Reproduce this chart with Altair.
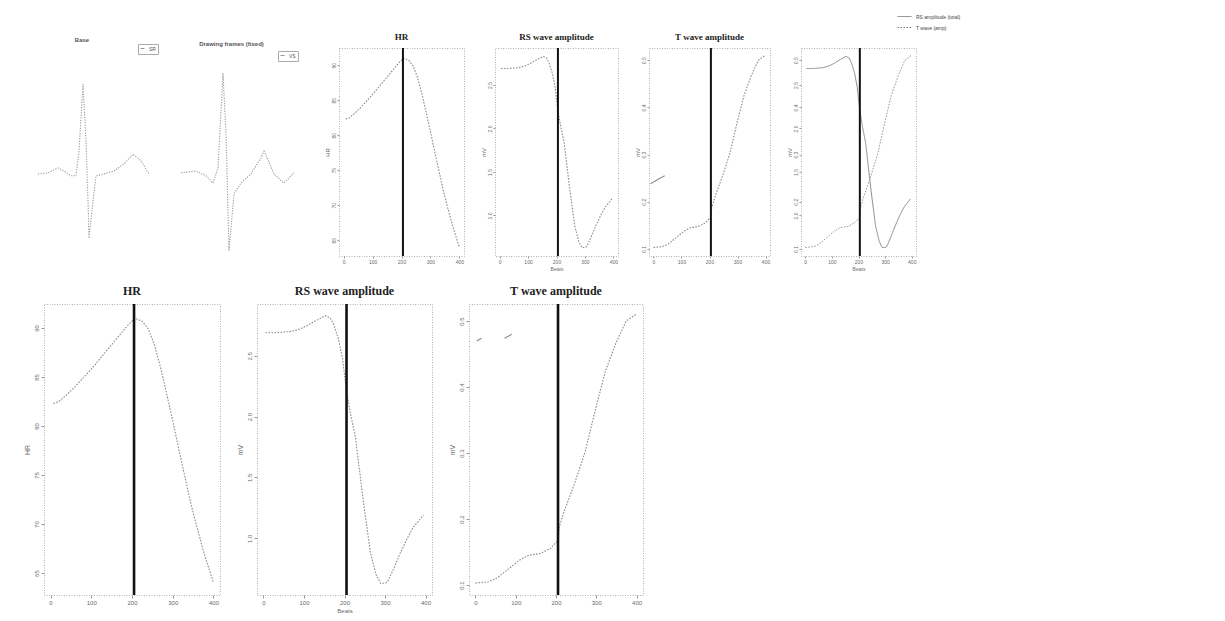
import altair as alt
import pandas as pd

# ---------------- data ----------------
x_ticks = [0, 100, 200, 300, 400]
marker_beat = [205]

hr_beats = [7, 20, 40, 60, 80, 100, 120, 140, 160, 180, 195, 207, 225, 240, 255,
            270, 285, 300, 315, 330, 345, 360, 375, 390, 400]
hr_values = [82.3, 82.5, 83.2, 84.0, 84.9, 85.8, 86.8, 87.8, 88.8, 89.8, 90.5, 91.0,
             90.7, 89.9, 88.3, 86.0, 83.3, 80.5, 77.6, 74.8, 72.0, 69.6, 67.3, 65.3, 64.0]
hr_ticks = [65, 70, 75, 80, 85, 90]

rs_beats = [5, 30, 67, 90, 109, 130, 153, 165, 173, 185, 195, 205, 215, 227, 247,
            264, 278, 289, 300, 306, 320, 338, 355, 370, 385, 395]
rs_values = [2.69, 2.69, 2.70, 2.72, 2.75, 2.79, 2.83, 2.81, 2.76, 2.64, 2.48, 2.21,
             2.02, 1.83, 1.29, 0.88, 0.70, 0.63, 0.63, 0.64, 0.74, 0.88, 1.00, 1.09,
             1.15, 1.19]
rs_ticks = [1.0, 1.5, 2.0, 2.5]

t_beats = [0, 33, 54, 85, 110, 131, 162, 187, 205, 208, 221, 246, 272, 297, 323,
           349, 374, 400]
t_values = [0.103, 0.105, 0.111, 0.126, 0.138, 0.145, 0.148, 0.156, 0.168, 0.188,
            0.213, 0.254, 0.301, 0.364, 0.425, 0.467, 0.500, 0.511]
t_ticks = [0.1, 0.2, 0.3, 0.4, 0.5]

# short stray trace pieces in the T panels
t_frag_seg = ["a", "a", "b", "b"]
t_frag_beats = [3, 15, 72, 90]
t_frag_values = [0.470, 0.474, 0.474, 0.480]
t_top_frag_beats = [-10, 15, 40]
t_top_frag_values = [0.238, 0.247, 0.255]

# ECG beats (time in ms, amplitude in mV)
ecg1_t = [0, 50, 100, 130, 165, 190, 205, 225, 240, 250, 255, 275, 290, 330, 380,
          430, 475, 515, 555]
ecg1_mv = [0.0, 0.02, 0.10, 0.05, -0.03, -0.03, 0.38, 1.50, 0.55, -0.45, -1.07,
           -0.45, -0.03, 0.0, 0.05, 0.17, 0.33, 0.22, 0.0]
ecg2_t = [0, 75, 125, 160, 185, 210, 225, 240, 265, 300, 350, 400, 415, 465, 515, 565]
ecg2_mv = [0.02, 0.05, -0.03, -0.15, 0.10, 1.68, 0.67, -1.28, -0.33, -0.15, 0.0,
           0.27, 0.38, 0.0, -0.15, 0.02]

ecg_titles = ["Base", "Drawing frames (fixed)"]
ecg_leads = ["SR", "VS"]
combo_labels = ["RS amplitude (total)", "T wave (amp)"]
titles = ["HR", "RS wave amplitude", "T wave amplitude"]

# ---------------- styling ----------------
CURVE = "#8c8c8c"
LABEL = "#6a6a6a"
SERIF = "Liberation Serif"
SANS = "Liberation Sans"
X_DOMAIN = [-16, 416]
HR_DOM = [62.76, 92.45]
RS_DOM = [0.533, 2.926]
T_DOM = [0.085, 0.526]
ECG_Y = [-1.367, 2.1]
TOP_H = 208
BOT_H = 291


def xaxis(title, fs, tick):
    kw = dict(values=x_ticks, labelFontSize=fs, labelColor=LABEL, labelFont=SANS,
              tickSize=tick, tickColor="#999", labelPadding=1, domain=False, grid=False,
              labelFlush=False)
    if title:
        kw.update(title=title, titleFontSize=fs, titleFontWeight="normal",
                  titleColor=LABEL, titleFont=SANS, titlePadding=2)
    else:
        kw.update(title=None)
    return alt.Axis(**kw)


def yaxis(title, values, fmt, fs, tick, lpad, tpad, orient="left"):
    kw = dict(values=values, format=fmt, orient=orient, labelAngle=270,
              labelAlign="center", labelBaseline="bottom", labelFontSize=fs,
              labelColor=LABEL, labelFont=SANS, tickSize=tick, tickColor="#999",
              labelPadding=lpad, domain=False, grid=False, labelFlush=False)
    if title:
        kw.update(title=title, titleFontSize=fs + 1, titleFontWeight="normal",
                  titleColor=LABEL, titleFont=SANS, titlePadding=tpad)
    else:
        kw.update(title=None)
    return alt.Axis(**kw)


def series_panel(beats, values, ydom, yticks, yfmt, w, h, title, tfs, ytitle, xtitle,
                 fs, tick, lpad, tpad, rule_w, frag=None):
    df = pd.DataFrame({"beat": beats, "value": values})
    xe = alt.X("beat:Q", scale=alt.Scale(domain=X_DOMAIN, nice=False, zero=False),
               axis=xaxis(xtitle, fs, tick))
    ye = alt.Y("value:Q", scale=alt.Scale(domain=ydom, nice=False, zero=False),
               axis=yaxis(ytitle, yticks, yfmt, fs, tick, lpad, tpad))
    layers = [alt.Chart(df).mark_line(color=CURVE, strokeWidth=1.1,
                                      strokeDash=[1.6, 1.4]).encode(x=xe, y=ye)]
    if frag is not None:
        layers.append(alt.Chart(frag).mark_line(color=CURVE, strokeWidth=1.1)
                      .encode(x=xe, y=ye, detail="seg:N"))
    layers.append(alt.Chart(pd.DataFrame({"beat": marker_beat}))
                  .mark_rule(color="#111", strokeWidth=rule_w).encode(x=xe))
    return alt.layer(*layers).properties(
        width=w, height=h,
        title=alt.TitleParams(title, font=SERIF, fontSize=tfs, fontWeight="bold",
                              color="#222", offset=5, frame="group"))


def ecg_panel(t, mv, xdom, w, title, dx, lead, legx, legy):
    df = pd.DataFrame({"t": t, "mv": mv, "lead": lead})
    return alt.Chart(df).mark_line(strokeWidth=1.1, strokeDash=[1.2, 1.4]).encode(
        x=alt.X("t:Q", scale=alt.Scale(domain=xdom, nice=False, zero=False), axis=None),
        y=alt.Y("mv:Q", scale=alt.Scale(domain=ECG_Y, nice=False, zero=False), axis=None),
        color=alt.Color("lead:N", scale=alt.Scale(domain=[lead], range=["#999999"]),
                        legend=alt.Legend(orient="none", legendX=legx, legendY=legy,
                                          title=None, labelFontSize=5, labelFont=SANS,
                                          labelColor="#555", symbolType="stroke",
                                          symbolSize=16, symbolStrokeWidth=1,
                                          strokeColor="#aaa", padding=2))
    ).properties(width=w, height=TOP_H, view=alt.ViewBackground(stroke="transparent"),
                 title=alt.TitleParams(title, font=SANS, fontSize=6, fontWeight="bold",
                                       color="#555", offset=1, dx=dx, frame="group"))


# ---------------- top row ----------------
ecg1 = ecg_panel(ecg1_t, ecg1_mv, [30, 530], 100, ecg_titles[0], -12, ecg_leads[0], 94, -4)
ecg2 = ecg_panel(ecg2_t, ecg2_mv, [-30, 635], 133, ecg_titles[1], -10, ecg_leads[1], 103, 3)

hr_top = series_panel(hr_beats, hr_values, HR_DOM, hr_ticks, "d", 125, TOP_H, titles[0], 9,
                      "HR", None, 5, 2, 1, 1, 2)
rs_top = series_panel(rs_beats, rs_values, RS_DOM, rs_ticks, ".1f", 123, TOP_H, titles[1], 9,
                      "mV", "Beats", 5, 2, 1, 1, 2)
t_top = series_panel(t_beats, t_values, T_DOM, t_ticks, ".1f", 121, TOP_H, titles[2], 9,
                     "mV", None, 5, 2, 1, 1, 2,
                     frag=pd.DataFrame({"beat": t_top_frag_beats, "value": t_top_frag_values,
                                        "seg": "c"}))

xc = alt.X("beat:Q", scale=alt.Scale(domain=X_DOMAIN, nice=False, zero=False),
           axis=xaxis("Beats", 5, 2))
dash = alt.StrokeDash("series:N",
                      scale=alt.Scale(domain=combo_labels, range=[[1, 0], [1.6, 1.4]]),
                      legend=alt.Legend(orient="none", legendX=96, legendY=-39, title=None,
                                        labelFontSize=5, labelFont=SANS, labelColor="#444",
                                        symbolType="stroke", symbolSize=196,
                                        symbolStrokeWidth=1, symbolStrokeColor="#777",
                                        rowPadding=0))
combo_rs = alt.Chart(pd.DataFrame({"beat": rs_beats, "value": rs_values,
                                   "series": combo_labels[0]})).mark_line(
    color="#8a8a8a", strokeWidth=1).encode(
    x=xc, y=alt.Y("value:Q", scale=alt.Scale(domain=RS_DOM, nice=False, zero=False),
                  axis=yaxis("mV", rs_ticks, ".1f", 5, 2, 1, 1)), strokeDash=dash)
combo_t = alt.Chart(pd.DataFrame({"beat": t_beats, "value": t_values,
                                  "series": combo_labels[1]})).mark_line(
    color="#9a9a9a", strokeWidth=1).encode(
    x=xc, y=alt.Y("value:Q", scale=alt.Scale(domain=T_DOM, nice=False, zero=False),
                  axis=yaxis(None, t_ticks, ".1f", 5, 2, 1, 1)), strokeDash=dash)
combo_rule = alt.Chart(pd.DataFrame({"beat": marker_beat})).mark_rule(
    color="#111", strokeWidth=2).encode(x=xc)
combo = alt.layer(combo_rs, combo_t, combo_rule).resolve_scale(y="independent").properties(
    width=115, height=TOP_H)

top = alt.hconcat(ecg1, ecg2, hr_top, rs_top, t_top, combo, spacing=31,
                  bounds="flush").resolve_scale(x="independent", y="independent",
                                                color="independent",
                                                strokeDash="independent")

# ---------------- bottom row ----------------
hr_b = series_panel(hr_beats, hr_values, HR_DOM, hr_ticks, "d", 176, BOT_H, titles[0], 12,
                    "HR", None, 6, 3, 2, 3, 2.6)
rs_b = series_panel(rs_beats, rs_values, RS_DOM, rs_ticks, ".1f", 175, BOT_H, titles[1], 12,
                    "mV", "Beats", 6, 3, 2, 3, 2.6)
t_b = series_panel(t_beats, t_values, T_DOM, t_ticks, ".1f", 174, BOT_H, titles[2], 12,
                   "mV", None, 6, 3, 2, 3, 2.6,
                   frag=pd.DataFrame({"beat": t_frag_beats, "value": t_frag_values,
                                      "seg": t_frag_seg}))
bottom = alt.hconcat(hr_b, rs_b, t_b, spacing=37, bounds="flush").resolve_scale(
    x="independent", y="independent")

chart = alt.vconcat(top, bottom, spacing=12).resolve_scale(
    x="independent", y="independent", color="independent", strokeDash="independent"
).properties(
    padding={"left": 14, "top": 0, "right": 5, "bottom": 5},
    background="white",
).configure_view(stroke="#b0b0b0", strokeDash=[1, 1.5], strokeWidth=1)

chart.save("out.html", embed_options={"renderer": "svg", "actions": False})
